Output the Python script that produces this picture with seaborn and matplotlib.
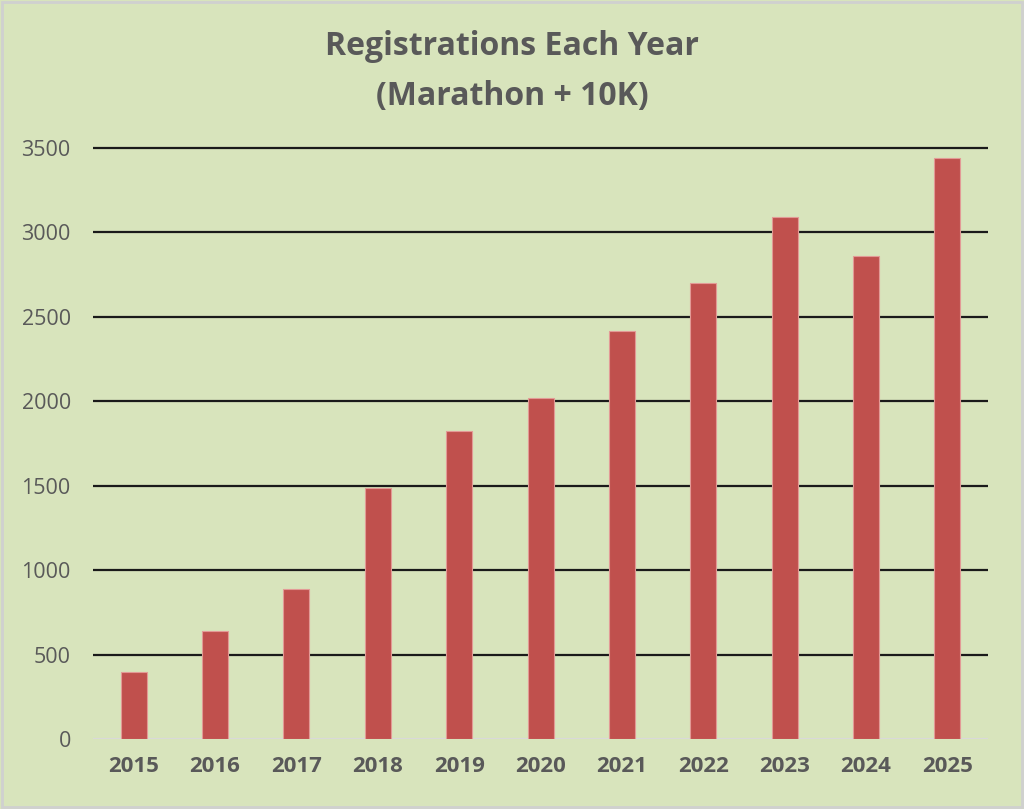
import matplotlib
matplotlib.use("Agg")
import matplotlib.pyplot as plt
import seaborn as sns
import pandas as pd

years = ["2015", "2016", "2017", "2018", "2019", "2020", "2021", "2022", "2023", "2024", "2025"]
registrations = [400, 642, 890, 1485, 1825, 2020, 2415, 2700, 3090, 2860, 3440]
yticks = [0, 500, 1000, 1500, 2000, 2500, 3000, 3500]
title = "Registrations Each Year\n(Marathon + 10K)"

bg = "#D8E4BC"
bar_color = "#C0504D"
text_color = "#595959"

sns.set_theme(style="white")
plt.rcParams["font.family"] = ["Open Sans", "DejaVu Sans"]

df = pd.DataFrame({"year": years, "reg": registrations})

fig = plt.figure(figsize=(10.24, 8.09), dpi=100, facecolor=bg)
fig.patches.append(plt.Rectangle((0.002, 0.002), 0.996, 0.996, transform=fig.transFigure,
                                 fill=False, edgecolor="#D0D0D0", linewidth=2))
ax = fig.add_axes([0.0908, 0.0862, 0.965 - 0.0908, 0.8215 - 0.0862])
ax.set_facecolor(bg)

sns.barplot(data=df, x="year", y="reg", color=bar_color, width=0.32, ax=ax,
            edgecolor="#E39A96", linewidth=0.8, saturation=1, zorder=3)

ax.set_xlim(-0.5, len(years) - 0.5)
ax.set_ylim(0, 3520)
ax.set_yticks(yticks)
ax.set_yticklabels([str(v) for v in yticks])
for v in yticks[1:]:
    ax.axhline(v, color="#1a1a1a", linewidth=1.6, zorder=1)
ax.axhline(0, color="#D9D9D9", linewidth=1.5, zorder=2)

for s in ax.spines.values():
    s.set_visible(False)
ax.set_xlabel("")
ax.set_ylabel("")
ax.tick_params(axis="y", length=0, pad=16, labelsize=15.5, labelcolor=text_color)
ax.tick_params(axis="x", length=0, pad=12, labelsize=16, labelcolor=text_color)
for lbl in ax.get_xticklabels():
    lbl.set_fontweight("bold")

fig.text(0.5, 0.9116, title, ha="center", va="center", fontsize=23, fontweight="bold",
         color=text_color, linespacing=1.7)

fig.savefig("out.png", dpi=100, facecolor=bg)
